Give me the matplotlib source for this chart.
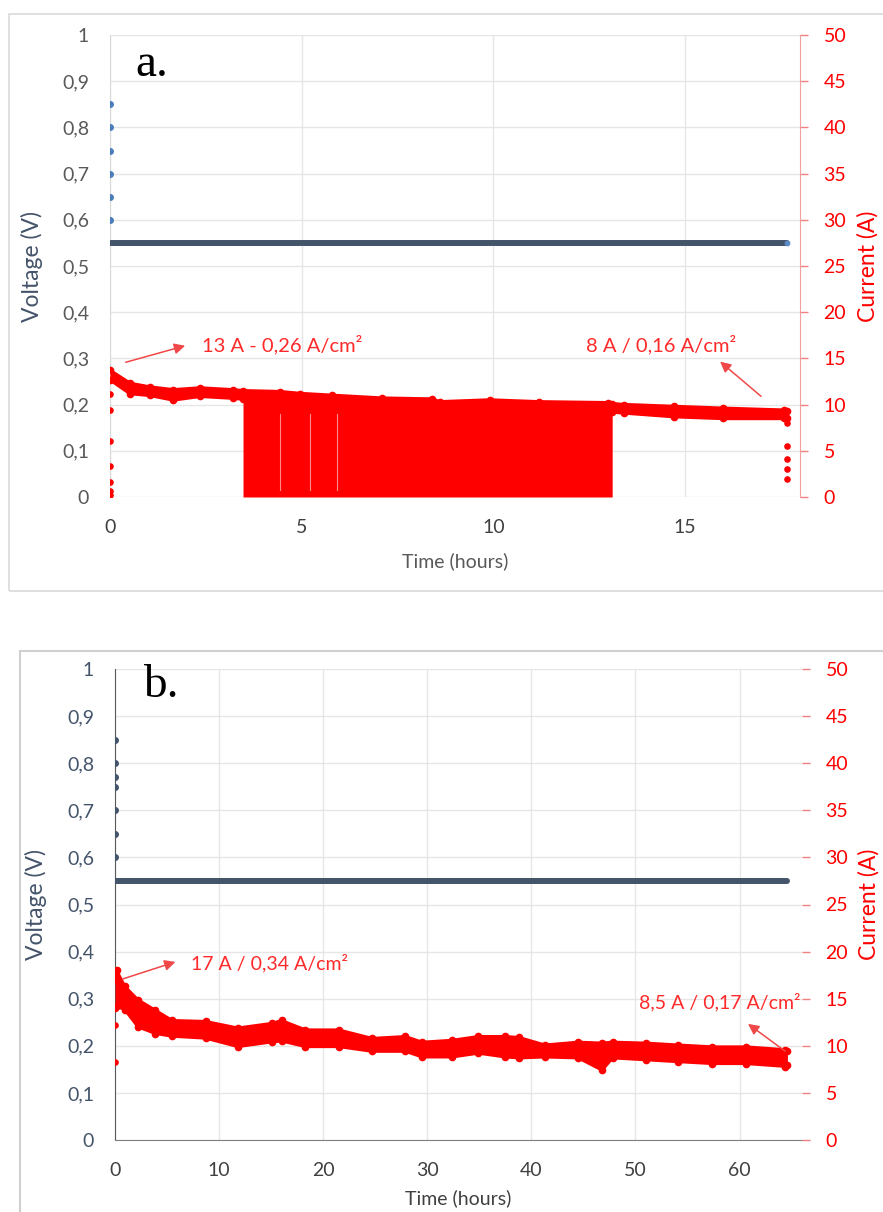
import matplotlib
matplotlib.use("Agg")
import matplotlib.pyplot as plt
from matplotlib.patches import Rectangle
import numpy as np

plt.rcParams['font.family'] = ['Lato', 'DejaVu Sans']

# ---------------- data ----------------
# Panel a
a_volt_init = [0.85, 0.80, 0.75, 0.70, 0.65, 0.60]
a_volt_hold = 0.55
a_t_end = 17.67

a_t = [0, 0.52, 1.04, 1.65, 2.35, 3.2, 3.47, 4.44, 4.96, 5.8, 7.1, 8.4, 8.6, 9.9,
       11.2, 13.0, 13.1, 13.4, 14.7, 16.0, 17.57, 17.67]
a_hi = [13.7, 12.3, 11.9, 11.6, 11.8, 11.6, 11.5, 11.4, 11.2, 11.0, 10.7, 10.6, 10.3, 10.5,
        10.3, 10.2, 10.1, 10.0, 9.8, 9.6, 9.4, 9.3]
a_lo = [12.7, 11.2, 11.0, 10.5, 10.9, 10.7, 10.6, 10.5, 10.3, 10.1, 9.8, 9.7, 9.4, 9.6,
        9.4, 9.3, 9.2, 9.1, 8.7, 8.5, 8.5, 8.5]
a_dense_start, a_dense_end = 3.47, 13.1
a_gaps = [4.44, 5.22, 5.91]
a_i_start = [11.2, 9.4, 6.1, 3.4, 1.6, 0.7, 0.2]
a_i_end = [8.0, 5.5, 4.1, 3.0, 1.9]

# Panel b
b_volt_init = [0.85, 0.80, 0.77, 0.75, 0.70, 0.65, 0.60]
b_volt_hold = 0.55
b_t_end = 64.6

b_t = [0, 0.16, 0.96, 2.2, 3.85, 5.5, 8.7, 11.8, 15.1, 16.0, 18.3, 21.5, 24.7, 27.9,
       29.5, 32.4, 34.9, 37.5, 38.8, 41.3, 44.5, 46.8, 47.8, 51.0, 54.1, 57.4, 60.6, 64.4, 64.6]
b_hi = [17.0, 18.0, 16.3, 14.9, 13.8, 12.7, 12.6, 11.9, 12.4, 12.7, 11.7, 11.7, 10.8, 11.0,
        10.4, 10.6, 11.0, 11.0, 10.9, 10.1, 10.4, 10.3, 10.4, 10.3, 10.1, 9.9, 9.9, 9.6, 9.4]
b_lo = [14.0, 14.2, 13.8, 12.0, 11.3, 11.0, 10.8, 9.9, 10.4, 10.5, 9.9, 9.9, 9.4, 9.4,
        8.8, 8.8, 9.2, 8.8, 8.7, 8.8, 8.7, 7.4, 8.7, 8.5, 8.3, 8.1, 8.1, 7.8, 8.0]
b_i_start = [12.2, 8.3]

volt_ticks = [0, 0.1, 0.2, 0.3, 0.4, 0.5, 0.6, 0.7, 0.8, 0.9, 1.0]
volt_labels = ['0', '0,1', '0,2', '0,3', '0,4', '0,5', '0,6', '0,7', '0,8', '0,9', '1']
curr_ticks = [0, 5, 10, 15, 20, 25, 30, 35, 40, 45, 50]
a_xticks = [0, 5, 10, 15]
b_xticks = [0, 10, 20, 30, 40, 50, 60]

# ---------------- style ----------------
RED = '#ff0000'
SLATE = '#44546a'
GRID = '#e6e6e6'
TICK_FS = 14
W, H = 883, 1212
fig = plt.figure(figsize=(W / 100, H / 100), dpi=100)

# outer panel frames
fig.patches.append(Rectangle((9 / W, 1 - 591 / H), 1.0, (591 - 14) / H, transform=fig.transFigure,
                             fill=False, ec='#d9d9d9', lw=1.2))
fig.patches.append(Rectangle((20 / W, -0.05), 1.0, 0.05 + 1 - 651 / H, transform=fig.transFigure,
                             fill=False, ec='#d0d0d0', lw=1.5))


def make_axes(l, r, t, b, xmax):
    ax = fig.add_axes([l / W, 1 - b / H, (r - l) / W, (b - t) / H])
    ax.set_xlim(0, xmax)
    ax.set_ylim(0, 1)
    ax.set_yticks(volt_ticks)
    ax.set_yticklabels(volt_labels)
    ax.grid(True, color=GRID, lw=1)
    ax.set_axisbelow(True)
    ax.tick_params(axis='both', length=0, labelsize=TICK_FS)
    ax.tick_params(axis='x', pad=16, labelcolor='#404040')
    ax.tick_params(axis='y', pad=15)
    for s in ['top', 'right']:
        ax.spines[s].set_visible(False)
    ax2 = ax.twinx()
    ax2.set_ylim(0, 50)
    ax2.set_yticks(curr_ticks)
    ax2.tick_params(axis='y', colors='#f08080', labelcolor=RED, length=6, width=1,
                    labelsize=TICK_FS, pad=11)
    for s in ['top', 'left', 'bottom']:
        ax2.spines[s].set_visible(False)
    ax2.set_ylabel('Current (A)', color=RED, fontsize=16.5)
    return ax, ax2


def band(axc, t, lo, hi, lw):
    axc.fill_between(t, lo, hi, color=RED, lw=0)
    axc.plot(t, hi, color=RED, lw=lw, marker='o', ms=4.5, solid_capstyle='round')
    axc.plot(t, lo, color=RED, lw=lw, marker='o', ms=4.5, solid_capstyle='round')


# ---------------- panel a ----------------
ax, ax2 = make_axes(110, 800, 35, 497, 18.0)
ax.set_xticks(a_xticks)
ax.tick_params(axis='y', labelcolor='#595959')
ax.spines['left'].set_color('#d9d9d9')
ax.spines['bottom'].set_visible(False)
ax2.spines['right'].set_color('#f4a0a0')
ax.set_ylabel('Voltage (V)', color=SLATE, fontsize=16.5)
ax.set_xlabel('Time (hours)', color='#595959', fontsize=14)
ax.yaxis.set_label_coords(-0.097, 0.5)
ax.xaxis.set_label_coords(0.5, -0.119)
ax2.yaxis.set_label_coords(1.083, 0.5)

ta = np.array(a_t)
band(ax2, ta, a_lo, a_hi, 2.5)
dense = (ta >= a_dense_start) & (ta <= a_dense_end)
ax2.fill_between(ta, 0, a_hi, where=dense, color=RED, lw=0)
for g in a_gaps:
    ax2.plot([g, g], [0.8, 9.0], color='white', lw=0.8, alpha=0.55)
ax2.scatter([0] * len(a_i_start), a_i_start, s=14, color=RED, zorder=3)
ax2.scatter([a_t_end] * len(a_i_end), a_i_end, s=14, color=RED, zorder=3)

ax.plot([0, a_t_end], [a_volt_hold, a_volt_hold], color=SLATE, lw=4.3, solid_capstyle='round', zorder=3)
ax.scatter([a_t_end], [a_volt_hold], s=10, color='#5b8cc8', zorder=4)
ax.scatter([0] * len(a_volt_init), a_volt_init, s=16, color='#4a7ebb', zorder=4)

ax2.text(2.4, 16.45, '13 A - 0,26 A/cm²', color='#ff2a2a', fontsize=14.5, va='center', ha='left')
ax2.annotate('', xy=(2.03, 16.45), xytext=(0.34, 14.5),
             arrowprops=dict(arrowstyle='-|>', color='#f04848', lw=1.1, mutation_scale=16))
ax2.text(14.37, 16.45, '8 A / 0,16 A/cm²', color='#ff2a2a', fontsize=14.5, va='center', ha='center')
ax2.annotate('', xy=(15.86, 14.85), xytext=(17.04, 10.7),
             arrowprops=dict(arrowstyle='-|>', color='#f04848', lw=1.1, mutation_scale=16))
fig.text(135 / W, 1 - 76 / H, 'a.', family='Liberation Serif', fontsize=34, va='baseline')

# ---------------- panel b ----------------
bx, bx2 = make_axes(115, 802, 669, 1140, 66.0)
bx.set_xticks(b_xticks)
bx.tick_params(axis='y', labelcolor=SLATE)
bx.spines['left'].set_color('#595959')
bx.spines['bottom'].set_color('#7f7f7f')
bx2.spines['right'].set_visible(False)
bx.set_ylabel('Voltage (V)', color=SLATE, fontsize=16.5)
bx.set_xlabel('Time (hours)', color='#404040', fontsize=14)
bx.yaxis.set_label_coords(-0.099, 0.5)
bx.xaxis.set_label_coords(0.5, -0.104)
bx2.yaxis.set_label_coords(1.081, 0.5)

tb = np.array(b_t)
band(bx2, tb, b_lo, b_hi, 2.0)
bx2.scatter([0] * len(b_i_start), b_i_start, s=14, color=RED, zorder=3)

bx.plot([0, b_t_end], [b_volt_hold, b_volt_hold], color=SLATE, lw=4.3, solid_capstyle='round', zorder=3)
bx.scatter([0] * len(b_volt_init), b_volt_init, s=16, color=SLATE, zorder=4)

bx2.text(7.3, 18.8, '17 A / 0,34 A/cm²', color='#ff2a2a', fontsize=14, va='center', ha='left')
bx2.annotate('', xy=(6.06, 19.0), xytext=(0.48, 17.0),
             arrowprops=dict(arrowstyle='-|>', color='#f04848', lw=1.1, mutation_scale=16))
bx2.text(58.1, 14.65, '8,5 A / 0,17 A/cm²', color='#ff2a2a', fontsize=14, va='center', ha='center')
bx2.annotate('', xy=(60.6, 12.5), xytext=(64.6, 9.25),
             arrowprops=dict(arrowstyle='-|>', color='#f04848', lw=1.1, mutation_scale=16))
fig.text(143 / W, 1 - 697 / H, 'b.', family='Liberation Serif', fontsize=34, va='baseline')

fig.savefig('out.png', dpi=100, facecolor='white')
